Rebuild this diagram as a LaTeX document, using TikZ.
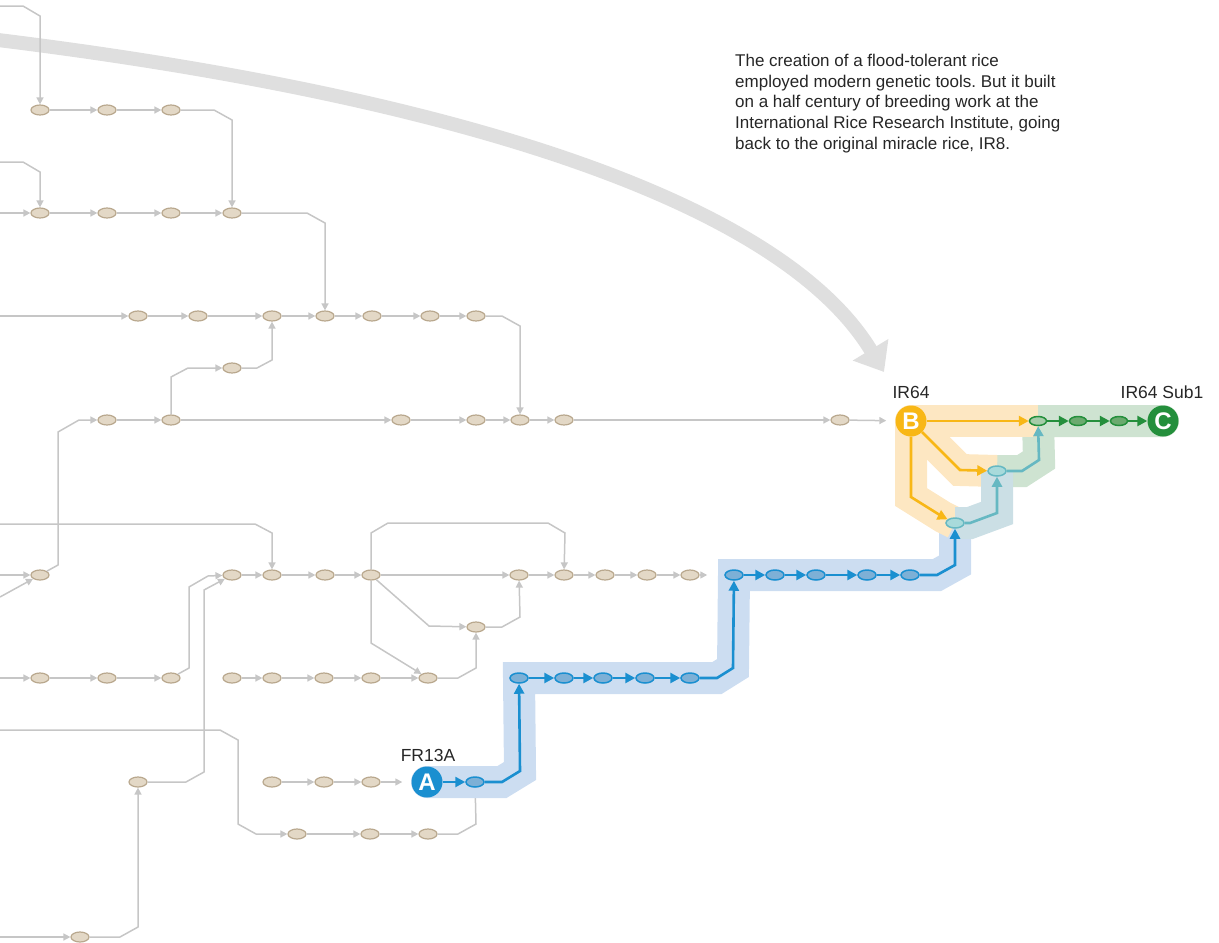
\documentclass[tikz,border=0pt]{standalone}
\usepackage{fontspec}
\setmainfont{Liberation Sans}
\usetikzlibrary{shapes.geometric, arrows.meta}
\frenchspacing

\definecolor{seedfill}{HTML}{E3D8C6}
\definecolor{seedline}{HTML}{B9A88E}
\definecolor{lineage}{HTML}{C6C6C6}
\definecolor{arcgrey}{HTML}{DFDFDF}
\definecolor{floodblue}{HTML}{1A8FD0}
\definecolor{bluefill}{HTML}{7DB0D6}
\definecolor{blueband}{HTML}{CCDDF1}
\definecolor{irgold}{HTML}{F8B716}
\definecolor{goldband}{HTML}{FDE7C2}
\definecolor{tealline}{HTML}{66B8C2}
\definecolor{tealfill}{HTML}{A8DADB}
\definecolor{tealband}{HTML}{CBDFE5}
\definecolor{subgreen}{HTML}{248F3C}
\definecolor{greenfill}{HTML}{6BAA6F}
\definecolor{greenband}{HTML}{CEE3D1}

\pgfdeclarelayer{lineage}
\pgfdeclarelayer{halo}
\pgfsetlayers{lineage,halo,main}

\begin{document}
\begin{tikzpicture}[
    x=1pt, y=-1pt,
    seed/.style={ellipse, draw=seedline, fill=seedfill, line width=1.2pt, minimum width=18pt, minimum height=10pt, inner sep=0pt},
    bluenode/.style={seed, draw=floodblue, fill=bluefill, line width=1.5pt},
    tealnode/.style={seed, draw=tealline, fill=tealfill, line width=1.5pt},
    greennode/.style={seed, draw=subgreen, fill=greenfill, line width=1.5pt, minimum width=17pt, minimum height=9pt},
    badge/.style={circle, minimum size=31pt, inner sep=0pt, text=white, font=\fontsize{24}{24}\selectfont\bfseries},
    link/.style={draw=lineage, line width=1.5pt, -{Triangle[length=7pt,width=7pt]}},
    bluelink/.style={draw=floodblue, line width=2.6pt, -{Triangle[length=10pt,width=10pt]}},
    goldlink/.style={bluelink, draw=irgold},
    teallink/.style={bluelink, draw=tealline},
    greenlink/.style={bluelink, draw=subgreen},
    halo/.style={line width=32pt, line join=miter},
    tag/.style={font=\fontsize{17.5}{17.5}\selectfont, text=black!85},
    note/.style={font=\fontsize{17}{20.7}\selectfont, align=left, inner sep=0pt, text=black!85}
  ]
  \useasboundingbox (0,0) rectangle (1219,943);

  % coloured lineage: FR13A x IR64 -> IR64 Sub1
  \node[badge, fill=floodblue] (A) at (427,782) {A};
  \node[bluenode] (u1) at (475,782) {};
  \foreach \n/\x in {2/519,3/564,4/603,5/645,6/690}
    \node[bluenode] (u\n) at (\x,678) {};
  \foreach \n/\x in {1/734,2/775,3/816,4/867,5/910}
    \node[bluenode] (v\n) at (\x,575) {};
  \node[tealnode] (t1) at (955,523) {};
  \node[tealnode] (t2) at (997,471) {};
  \node[badge, fill=irgold] (B) at (911,421) {B};
  \node[greennode, fill=greenfill!60] (s1) at (1038,421) {};
  \node[greennode] (s2) at (1078,421) {};
  \node[greennode] (s3) at (1119,421) {};
  \node[badge, fill=subgreen] (C) at (1163,421) {C};

  \begin{pgfonlayer}{lineage}
    % the big sweep from IR8
    \draw[arcgrey, line width=14pt, -{Triangle[length=26pt,width=40pt]}]
      (-10,39) .. controls (450,95) and (780,200) .. (884,372);

    % breeding tree
    \foreach \n/\x in {1/40,2/107,3/171}
      \node[seed] (a\n) at (\x,110) {};
    \foreach \n/\x in {1/40,2/107,3/171,4/232}
      \node[seed] (b\n) at (\x,213) {};
    \foreach \n/\x in {1/138,2/198,3/272,4/325,5/372,6/430,7/476}
      \node[seed] (c\n) at (\x,316) {};
    \node[seed] (d1) at (232,368) {};
    \foreach \n/\x in {1/107,2/171,3/401,4/476,5/520,6/564,7/840}
      \node[seed] (e\n) at (\x,420) {};
    \foreach \n/\x in {1/40,2/232,3/272,4/325,5/371,6/519,7/564,8/605,9/647,10/690}
      \node[seed] (f\n) at (\x,575) {};
    \node[seed] (g1) at (476,627) {};
    \foreach \n/\x in {1/40,2/107,3/171,4/232,5/272,6/324,7/371,8/428}
      \node[seed] (h\n) at (\x,678) {};
    \node[seed] (k1) at (138,782) {};
    \foreach \n/\x in {1/272,2/324,3/371}
      \node[seed] (m\n) at (\x,782) {};
    \foreach \n/\x in {1/297,2/370,3/428}
      \node[seed] (n\n) at (\x,834) {};
    \node[seed] (p1) at (80,937) {};

    % parents coming in from off the page
    \coordinate (in1) at (0,6);
    \coordinate (in2) at (0,162);
    \coordinate (in3) at (0,213);
    \coordinate (in4) at (0,316);
    \coordinate (in5) at (0,524);
    \coordinate (in6) at (0,575);
    \coordinate (in7) at (0,597);
    \coordinate (in8) at (0,678);
    \coordinate (in9) at (0,730);
    \coordinate (in10) at (0,937);

    \foreach \s/\t in {a1/a2,a2/a3,b1/b2,b2/b3,b3/b4,c1/c2,c2/c3,c3/c4,c4/c5,c5/c6,c6/c7,
        e1/e2,e2/e3,e3/e4,e4/e5,e5/e6,e6/e7,f2/f3,f3/f4,f4/f5,f5/f6,f6/f7,f7/f8,f8/f9,f9/f10,
        h1/h2,h2/h3,h4/h5,h5/h6,h6/h7,h7/h8,m1/m2,m2/m3,n1/n2,n2/n3,
        in3/b1,in4/c1,in6/f1,in7/f1,in8/h1,in10/p1}
      \draw[link] (\s) -- (\t);

    \draw[link] (in1) -- (23,6) -- (40,16) -- (a1);
    \draw[link] (in2) -- (23,162) -- (40,172) -- (b1);
    \draw[link] (a3) -- (214,110) -- (232,120) -- (b4);
    \draw[link] (b4) -- (307,213) -- (325,223) -- (c4);
    \draw[link] (c7) -- (502,316) -- (520,326) -- (e5);
    \draw[link] (e2) -- (171,377) -- (188,368) -- (d1);
    \draw[link] (d1) -- (257,368) -- (272,360) -- (c3);
    \draw[link] (f1) -- (58,565) -- (58,432) -- (79,420) -- (e1);
    \draw[link] (in5) -- (255,524) -- (272,533) -- (f3);
    \draw[link] (f5) -- (371,533) -- (388,523) -- (548,523) -- (565,533) -- (f7);
    \draw[link] (f5) -- (429,626) -- (g1);
    \draw[link] (f5) -- (371,643) -- (h8);
    \draw[link] (g1) -- (502,627) -- (520,617) -- (f6);
    \draw[link] (h8) -- (458,678) -- (476,668) -- (g1);
    \draw[link] (h3) -- (189,668) -- (189,587) -- (208,576) -- (f2);
    \draw[link] (k1) -- (186,782) -- (204,772) -- (204,590) -- (f2);
    \draw[link] (p1) -- (120,937) -- (138,927) -- (k1);
    \draw[link] (in9) -- (220,730) -- (238,740) -- (238,824) -- (256,834) -- (n1);
    \draw[link, -] (n3) -- (458,834) -- (476,824) -- (u1);
    \draw[link, shorten >=17pt] (f10) -- (v1);
    \draw[link, shorten >=9pt] (e7) -- (B);
    \draw[link, shorten >=9pt] (m3) -- (A);
  \end{pgfonlayer}

  % highlight bands
  \begin{pgfonlayer}{halo}
    \draw[halo, blueband] (A.center) -- (u1.center) -- (502,782) -- (520,771) -- (u2.center)
      -- (u6.center) -- (717,678) -- (733,668) -- (v1.center) -- (v5.center)
      -- (937,575) -- (955,565) -- (t1.center);
    \fill[blueband] (A) circle (16pt);
    \draw[halo, greenband] (t2.center) -- (1022,471) -- (1039,460) -- (s1.center) -- (C.center);
    \fill[greenband] (C) circle (16pt);
    \draw[halo, goldband] (B.center) -- (s1.center);
    \draw[halo, goldband] (B.center) -- (960,470) -- (t2.center);
    \draw[halo, goldband] (B.center) -- (911,497) -- (943,517) -- (t1.center);
    \fill[goldband] (B) circle (16pt);
    \draw[halo, tealband] (t1.center) -- (970,523) -- (997,513) -- (t2.center);
  \end{pgfonlayer}

  \draw[bluelink] (A) -- (u1);
  \draw[bluelink] (u1) -- (502,782) -- (520,771) -- (u2);
  \foreach \s/\t in {u2/u3,u3/u4,u4/u5,u5/u6,v1/v2,v2/v3,v3/v4,v4/v5}
    \draw[bluelink] (\s) -- (\t);
  \draw[bluelink] (u6) -- (717,678) -- (733,668) -- (v1);
  \draw[bluelink] (v5) -- (937,575) -- (955,565) -- (t1);

  \draw[goldlink] (B) -- (s1);
  \draw[goldlink] (B) -- (960,470) -- (t2);
  \draw[goldlink] (B) -- (911,497) -- (943,517) -- (t1);

  \draw[teallink] (t1) -- (970,523) -- (997,513) -- (t2);
  \draw[teallink] (t2) -- (1022,471) -- (1039,460) -- (s1);

  \foreach \s/\t in {s1/s2,s2/s3,s3/C}
    \draw[greenlink] (\s) -- (\t);

  % labels
  \node[tag] (frlab) at (428,755) {FR13A};
  \node[tag] (irlab) at (911,392) {IR64};
  \node[tag] (sublab) at (1162,392) {IR64 Sub1};
  \node[note, anchor=north west] (blurb) at (735,54)
    {The creation of a flood-tolerant rice\\
     employed modern genetic tools. But it built\\
     on a half century of breeding work at the\\
     International Rice Research Institute, going\\
     back to the original miracle rice, IR8.};
\end{tikzpicture}
\end{document}
